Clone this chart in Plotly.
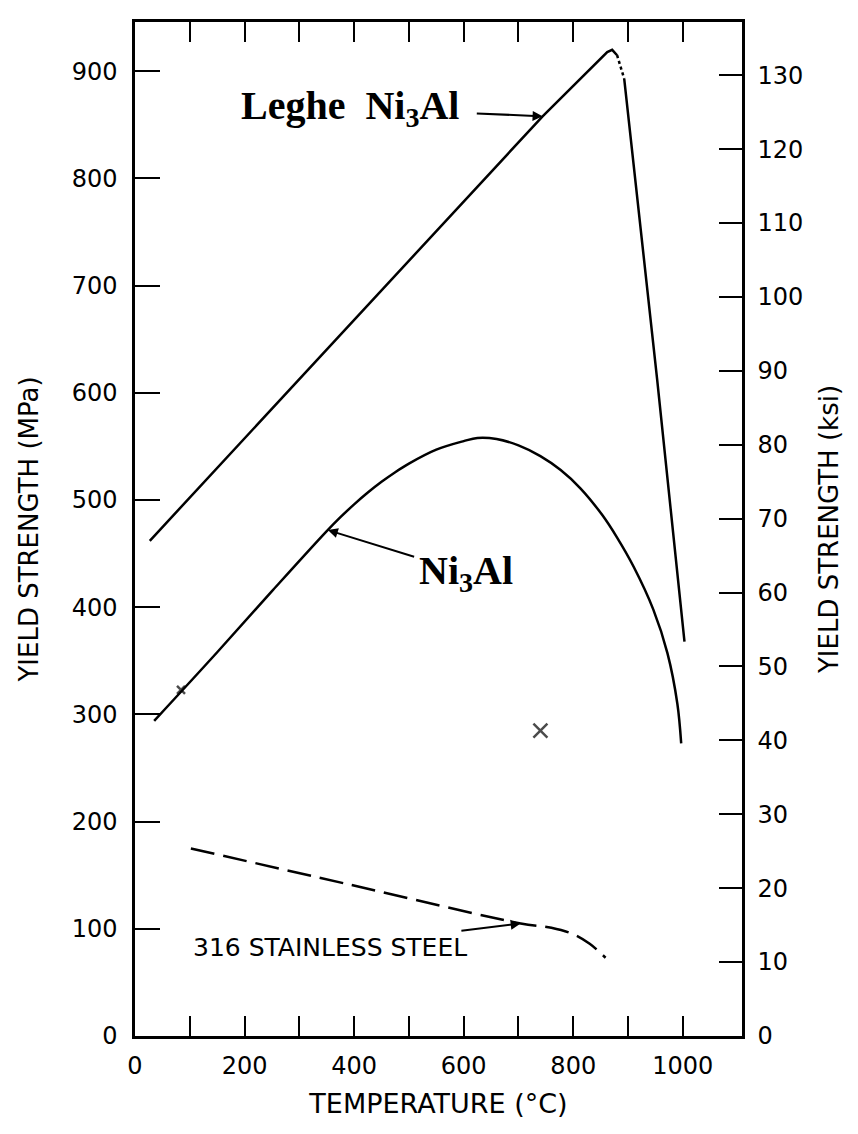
import plotly.graph_objects as go

# ---- data ----
MPA_PER_KSI = 6.895

leghe_T = [27, 744, 862, 871, 880]
leghe_S = [462, 858, 918, 920, 915]
leghe_dot_T = [880, 886, 893]
leghe_dot_S = [915, 905, 893]
leghe_drop_T = [893, 953, 1003]
leghe_drop_S = [893, 613, 368]

ni3al_T = [35, 150, 250, 350, 375, 400, 425, 450, 475, 500, 550, 600, 625, 660, 700,
           740, 777, 813, 853, 880, 910, 946, 972, 990, 997]
ni3al_S = [294, 358, 415, 471, 484, 496, 507, 517, 526, 534, 547, 555, 558, 557, 551,
           541, 528, 511, 486, 465, 438, 398, 357, 310, 273]

steel_T = [102, 394, 704, 760, 800, 830, 859]
steel_S = [175, 141, 105, 101, 95, 86, 73]

x_marks_T = [84, 740]
x_marks_S = [323, 285]

x_ticks = [0, 200, 400, 600, 800, 1000]
x_minor_ticks = [100, 300, 500, 700, 900]
y_ticks = [0, 100, 200, 300, 400, 500, 600, 700, 800, 900]
ksi_ticks = [0, 10, 20, 30, 40, 50, 60, 70, 80, 90, 100, 110, 120, 130]

X_MAX = 1108
Y_MAX = 946

LW = 2.5
fig = go.Figure()

fig.add_trace(go.Scatter(x=leghe_T, y=leghe_S, mode="lines",
                         line=dict(color="black", width=LW)))
fig.add_trace(go.Scatter(x=leghe_dot_T, y=leghe_dot_S, mode="lines",
                         line=dict(color="black", width=LW, dash="3px,3px")))
fig.add_trace(go.Scatter(x=leghe_drop_T, y=leghe_drop_S, mode="lines",
                         line=dict(color="black", width=LW)))
fig.add_trace(go.Scatter(x=ni3al_T, y=ni3al_S, mode="lines",
                         line=dict(color="black", width=LW, shape="spline", smoothing=1.0)))
fig.add_trace(go.Scatter(x=steel_T, y=steel_S, mode="lines",
                         line=dict(color="black", width=LW, dash="24px,9px",
                                   shape="spline", smoothing=1.0)))
fig.add_trace(go.Scatter(x=x_marks_T, y=x_marks_S, mode="markers",
                         marker=dict(symbol="x-thin", size=[8, 14], color="black",
                                     line=dict(color="black", width=2.5))))
# dummy trace so the ksi axis is drawn
fig.add_trace(go.Scatter(x=[None], y=[None], yaxis="y2", mode="lines"))

serif = dict(family="Liberation Serif", size=40, color="black", weight="bold")
sans = dict(family="DejaVu Sans", size=25, color="black")
arrow = dict(showarrow=True, arrowhead=2, arrowsize=1, arrowwidth=2, arrowcolor="black",
             axref="x", ayref="y", xref="x", yref="y")

# labels with arrows pointing at their curves (text centred at ax, ay)
fig.add_annotation(x=744, y=858, ax=393, ay=866, text="Leghe  Ni<sub>3</sub>Al",
                   font=serif, startstandoff=16, **arrow)
fig.add_annotation(x=352, y=472, ax=605, ay=432, text="Ni<sub>3</sub>Al",
                   font=serif, startstandoff=4, **arrow)
fig.add_annotation(x=704, y=105, ax=356, ay=83, text="316 STAINLESS STEEL",
                   font=sans, startstandoff=2, **arrow)

axis_common = dict(showgrid=False, zeroline=False, showline=True, linecolor="black",
                   linewidth=LW, ticks="inside", tickcolor="black", tickwidth=2,
                   tickfont=dict(family="DejaVu Sans", size=24, color="black"))

fig.update_layout(
    width=858, height=1134,
    margin=dict(l=135, r=116, t=22, b=98, autoexpand=False),
    paper_bgcolor="white", plot_bgcolor="white",
    showlegend=False,
    font=dict(family="DejaVu Sans", color="black"),
    xaxis=dict(range=[0, X_MAX], tickvals=x_ticks, ticklen=20, mirror="allticks",
               minor=dict(ticks="inside", tickvals=x_minor_ticks, ticklen=10,
                          tickcolor="black", tickwidth=2),
               ticklabelstandoff=6,
               title=dict(text="TEMPERATURE (°C)", font=dict(size=27), standoff=16),
               **axis_common),
    yaxis=dict(range=[0, Y_MAX], tickvals=y_ticks, ticklen=25,
               ticklabelstandoff=10,
               title=dict(text="YIELD STRENGTH (MPa)", font=dict(size=26), standoff=26),
               **axis_common),
    yaxis2=dict(range=[0, Y_MAX / MPA_PER_KSI], tickvals=ksi_ticks, ticklen=23,
                overlaying="y", side="right", ticklabelstandoff=8,
                title=dict(text="YIELD STRENGTH (ksi)", font=dict(size=26), standoff=18),
                **axis_common),
)

fig.write_html("out.html")
